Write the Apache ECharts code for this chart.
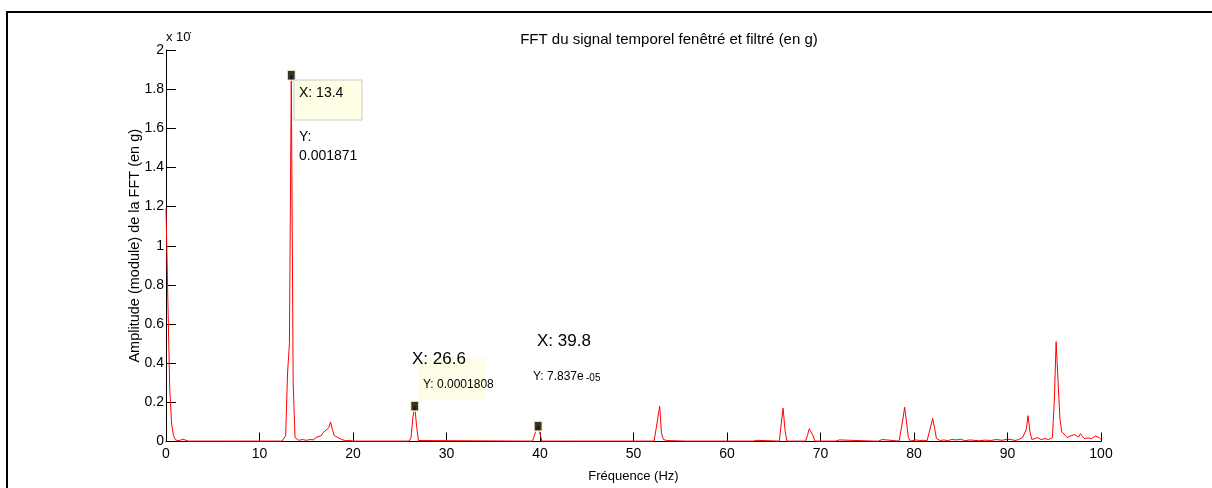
<!DOCTYPE html>
<html><head><meta charset="utf-8">
<script src="https://cdn.jsdelivr.net/npm/echarts@6/dist/echarts.min.js"></script>
<style>html,body{margin:0;padding:0;background:#fff}#c{width:1212px;height:488px}</style>
</head><body><div id="c"></div>
<script>
// Frequency (Hz) and FFT amplitude (x 10^-3 g)
const freq = [0,0.2,0.4,0.6,0.8,1.0,1.2,1.4,1.6,1.8,2.0,2.4,3.0,5.6,5.8,6.0,8.4,8.6,8.8,
  12.4,12.6,12.8,13.0,13.2,13.4,13.6,13.8,14.0,14.2,14.6,15.0,15.4,15.8,16.0,16.2,16.6,16.8,17.0,17.4,17.6,17.8,18.0,18.4,18.8,19.2,19.6,20.0,20.8,21.0,21.2,
  26.0,26.2,26.4,26.6,26.8,27.0,39.2,39.4,39.6,39.8,40.0,40.2,42.2,42.4,42.6,49.6,49.8,50.0,50.6,50.8,51.0,
  52.2,52.4,52.6,52.8,53.0,53.2,53.6,53.8,55.6,55.8,56.0,59.8,60.0,60.2,62.8,63.0,63.2,63.4,
  65.6,65.8,66.0,66.2,66.4,66.6,66.8,68.4,68.6,68.8,69.0,69.2,69.4,71.2,71.4,71.6,71.8,72.0,72.2,
  75.8,76.0,76.2,76.4,76.6,76.8,78.4,78.6,78.8,79.0,79.2,79.4,79.6,79.8,80.2,80.6,81.0,81.4,81.6,81.8,82.0,82.2,82.4,82.8,
  83.2,83.6,84.0,84.6,85.0,85.4,86.0,86.2,86.4,87.0,87.6,88.2,88.8,89.4,90.0,90.4,90.8,91.2,91.6,91.8,92.0,92.2,92.4,92.6,
  93.2,93.6,94.0,94.4,94.8,95.0,95.2,95.4,95.6,95.8,96.0,96.4,96.8,97.2,97.6,97.8,98.2,98.6,99.0,99.4,99.8,100];
const amp = [1.19,0.72,0.27,0.09,0.03,0.008,0.012,0.004,0.014,0.012,0.003,0.002,0.002,0.002,0.006,0.002,0.002,0.006,0.002,
  0.002,0.01,0.03,0.35,0.5,1.871,0.3,0.02,0.012,0.006,0.01,0.006,0.01,0.008,0.02,0.012,0.03,0.045,0.035,0.07,0.1,0.06,0.03,0.02,0.01,0.004,0.006,0.002,0.002,0.008,0.002,
  0.002,0.02,0.12,0.1808,0.08,0.005,0.002,0.03,0.06,0.07837,0.04,0.002,0.002,0.01,0.002,0.002,0.008,0.002,0.002,0.008,0.002,
  0.002,0.06,0.12,0.18,0.04,0.01,0.005,0.002,0.002,0.008,0.002,0.002,0.006,0.002,0.002,0.008,0.006,0.002,
  0.002,0.09,0.17,0.06,0.002,0.008,0.002,0.002,0.03,0.065,0.07,0.03,0.002,0.002,0.006,0.002,0.006,0.008,0.002,
  0.002,0.006,0.002,0.006,0.01,0.004,0.002,0.01,0.11,0.175,0.1,0.02,0.002,0.008,0.008,0.005,0.006,0.004,0.01,0.08,0.118,0.07,0.015,0.005,
  0.008,0.004,0.01,0.008,0.012,0.004,0.008,0.018,0.006,0.004,0.007,0.005,0.01,0.006,0.012,0.01,0.005,0.01,0.02,0.02,0.06,0.132,0.05,0.01,
  0.02,0.01,0.015,0.01,0.02,0.2,0.51,0.505,0.12,0.05,0.04,0.02,0.03,0.035,0.022,0.04,0.015,0.018,0.015,0.028,0.02,0.01];
// Data tips (X in Hz, Y in g)
const tipX = [13.4, 26.6, 39.8];
const tipY = [0.001871, 0.0001808, 0.00007837];
const tipYText = ['0.001871', '0.0001808', '7.837e-05'];
const xTicks = [0,10,20,30,40,50,60,70,80,90,100];
const yTicks = [0,0.2,0.4,0.6,0.8,1,1.2,1.4,1.6,1.8,2];

const FONT = 'Liberation Sans, Arial, sans-serif';
const chart = echarts.init(document.getElementById('c'), null, {renderer: 'canvas'});
chart.setOption({
  animation: false,
  backgroundColor: '#fff',
  title: {
    text: 'FFT du signal temporel fenêtré et filtré (en g)',
    left: 664, top: 27, textAlign: 'center',
    textStyle: {fontFamily: FONT, fontSize: 15, fontWeight: 'normal', color: '#000'}
  },
  grid: {left: 166, right: 111, top: 50, bottom: 46.5, containLabel: false},
  xAxis: {
    type: 'value', min: xTicks[0], max: xTicks[xTicks.length-1], interval: 10,
    name: 'Fréquence (Hz)', nameLocation: 'middle', nameGap: 28,
    nameTextStyle: {fontFamily: FONT, fontSize: 13, color: '#000'},
    axisLine: {show: true, onZero: false, lineStyle: {color: '#000', width: 1}},
    axisTick: {show: true, inside: true, length: 9, lineStyle: {color: '#000'}},
    axisLabel: {fontFamily: FONT, fontSize: 14, color: '#000', margin: 6},
    splitLine: {show: false}
  },
  yAxis: {
    type: 'value', min: yTicks[0], max: yTicks[yTicks.length-1], interval: 0.2,
    name: 'Amplitude (module) de la FFT (en g)', nameLocation: 'middle', nameGap: 24,
    nameMoveOverlap: false,
    nameTextStyle: {fontFamily: FONT, fontSize: 14.5, color: '#000'},
    axisLine: {show: true, lineStyle: {color: '#000', width: 1}},
    axisTick: {show: true, inside: true, length: 10, lineStyle: {color: '#000'}},
    axisLabel: {fontFamily: FONT, fontSize: 14, color: '#000', margin: 2},
    splitLine: {show: false}
  },
  series: [
    {
      type: 'line', data: freq.map((f, i) => [f, amp[i]]),
      showSymbol: false, symbol: 'none',
      lineStyle: {color: '#ff0000', width: 1}, z: 2
    },
    {
      type: 'scatter', data: tipX.map((x, i) => [x, tipY[i] * 1000]),
      symbol: 'rect', symbolSize: [8, 10],
      itemStyle: {color: '#000', borderColor: '#ffffc8', borderWidth: 1.5}, z: 5
    }
  ],
  graphic: [
    {type: 'rect', shape: {x: 7, y: 12, width: 1400, height: 700}, style: {fill: 'none', stroke: '#000', lineWidth: 2}, z: 0, silent: true},
    {type: 'text', left: 166, top: 31, style: {text: 'x 10\u0307', font: '13px ' + FONT, fill: '#000'}},
    // tip 1
    {type: 'rect', shape: {x: 294, y: 80, width: 68, height: 40}, style: {fill: '#ffffe6', stroke: '#c8c8c8', lineWidth: 1}, z: 10},
    {type: 'text', left: 299, top: 86, z: 11, style: {text: 'X: ' + tipX[0], font: '14px ' + FONT, fill: '#000'}},
    {type: 'text', left: 299, top: 130, z: 11, style: {text: 'Y:', font: '14px ' + FONT, fill: '#000'}},
    {type: 'text', left: 299, top: 149, z: 11, style: {text: tipYText[0], font: '14px ' + FONT, fill: '#000'}},
    // tip 2
    {type: 'rect', shape: {x: 418, y: 358, width: 67, height: 42}, style: {fill: '#fdfde8', stroke: 'none'}, z: 10},
    {type: 'text', left: 412, top: 351, z: 11, style: {text: 'X: ' + tipX[1], font: '17px ' + FONT, fill: '#000'}},
    {type: 'text', left: 423, top: 379, z: 11, style: {text: 'Y: ' + tipYText[1], font: '12px ' + FONT, fill: '#000'}},
    // tip 3
    {type: 'text', left: 537, top: 333, z: 11, style: {text: 'X: ' + tipX[2], font: '17px ' + FONT, fill: '#000'}},
    {type: 'text', left: 533, top: 371, z: 11, style: {text: 'Y: 7.837e', font: '12px ' + FONT, fill: '#000'}},
    {type: 'text', left: 586, top: 373, z: 11, style: {text: '-05', font: '10px ' + FONT, fill: '#000'}}
  ]
});
</script></body></html>
